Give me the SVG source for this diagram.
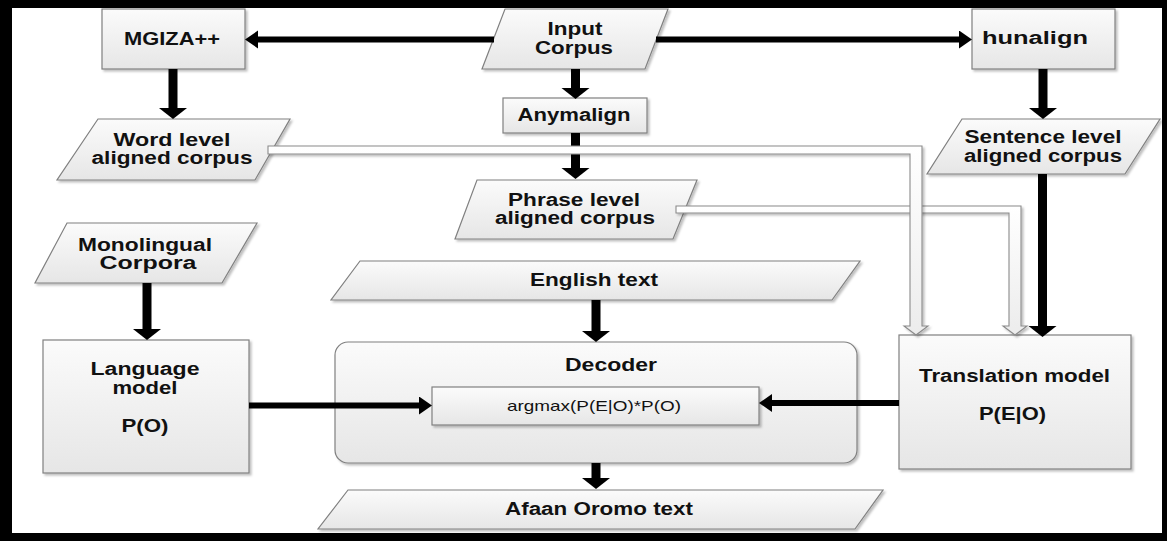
<svg xmlns="http://www.w3.org/2000/svg" width="1167" height="541" viewBox="0 0 1167 541">
<defs>
<linearGradient id="g" x1="0" y1="0" x2="0" y2="1">
<stop offset="0" stop-color="#fbfbfb"/>
<stop offset="1" stop-color="#e6e6e6"/>
</linearGradient>
<linearGradient id="gh" x1="0" y1="0" x2="0" y2="1">
<stop offset="0" stop-color="#ffffff"/>
<stop offset="1" stop-color="#ececec"/>
</linearGradient>
<filter id="sh" x="-10%" y="-10%" width="130%" height="130%">
<feDropShadow dx="2" dy="2" stdDeviation="1.2" flood-color="#000" flood-opacity="0.25"/>
</filter>
<marker id="ahv" markerUnits="userSpaceOnUse" markerWidth="14" markerHeight="30" refX="0" refY="14" orient="auto" viewBox="0 0 14 30">
<path d="M0,0 L11,14 L0,28 z" fill="#000"/>
</marker>
<marker id="ahh" markerUnits="userSpaceOnUse" markerWidth="16" markerHeight="20" refX="0" refY="9" orient="auto" viewBox="0 0 16 20">
<path d="M0,0 L13,9 L0,18 z" fill="#000"/>
</marker>
</defs>
<style>
.n{fill:url(#g);stroke:#808080;stroke-width:1.2;filter:url(#sh)}
.t{font-family:"Liberation Sans",Arial,sans-serif;font-weight:bold;font-size:18px;fill:#111;text-anchor:middle}
.tn{font-family:"Liberation Sans",Arial,sans-serif;font-size:15px;fill:#111;text-anchor:middle}
.v{stroke:#000;stroke-width:9;fill:none;marker-end:url(#ahv)}
.h{stroke:#000;stroke-width:6;fill:none;marker-end:url(#ahh)}
.hol{fill:url(#gh);stroke:#8a8a8a;stroke-width:1.1;filter:url(#sh)}
</style>
<rect x="0" y="0" width="1167" height="541" fill="#000"/>
<rect x="12" y="8" width="1150" height="525" fill="#fff"/>

<g id="mgiza">
<rect class="n" x="102" y="9" width="143" height="60"/>
<text class="t" x="172" y="45" textLength="96" lengthAdjust="spacingAndGlyphs">MGIZA++</text>
</g>
<g id="input">
<polygon class="n" points="505,9 668,9 645,69 482,69"/>
<text class="t" x="575" y="35" textLength="55" lengthAdjust="spacingAndGlyphs">Input</text>
<text class="t" x="574" y="54" textLength="78" lengthAdjust="spacingAndGlyphs">Corpus</text>
</g>
<g id="hunalign">
<rect class="n" x="972" y="9" width="143" height="60"/>
<text class="t" x="1035" y="44" textLength="106" lengthAdjust="spacingAndGlyphs">hunalign</text>
</g>
<g id="anymalign">
<rect class="n" x="503" y="98" width="144" height="35"/>
<text class="t" x="574" y="121" textLength="113" lengthAdjust="spacingAndGlyphs">Anymalign</text>
</g>
<g id="word">
<polygon class="n" points="98,119 290,119 255,180 57,180"/>
<text class="t" x="172" y="146" textLength="117" lengthAdjust="spacingAndGlyphs">Word level</text>
<text class="t" x="172" y="164" textLength="161" lengthAdjust="spacingAndGlyphs">aligned corpus</text>
</g>
<g id="phrase">
<polygon class="n" points="477,180 697,180 673,239 455,239"/>
<text class="t" x="574" y="206" textLength="132" lengthAdjust="spacingAndGlyphs">Phrase level</text>
<text class="t" x="575" y="224" textLength="160" lengthAdjust="spacingAndGlyphs">aligned corpus</text>
</g>
<g id="sentence">
<polygon class="n" points="962,119 1160,119 1125,174 927,174"/>
<text class="t" x="1043" y="143" textLength="157" lengthAdjust="spacingAndGlyphs">Sentence level</text>
<text class="t" x="1043" y="162" textLength="158" lengthAdjust="spacingAndGlyphs">aligned corpus</text>
</g>
<g id="monolingual">
<polygon class="n" points="67,223 257,223 222,283 35,283"/>
<text class="t" x="145" y="251" textLength="134" lengthAdjust="spacingAndGlyphs">Monolingual</text>
<text class="t" x="148" y="269" textLength="97" lengthAdjust="spacingAndGlyphs">Corpora</text>
</g>
<g id="language">
<rect class="n" x="43" y="340" width="206" height="133"/>
<text class="t" x="145" y="375" textLength="109" lengthAdjust="spacingAndGlyphs">Language</text>
<text class="t" x="145" y="394" textLength="65" lengthAdjust="spacingAndGlyphs">model</text>
<text class="t" x="145" y="432" textLength="47" lengthAdjust="spacingAndGlyphs">P(O)</text>
</g>
<g id="english">
<polygon class="n" points="360,261 860,261 832,300 331,300"/>
<text class="t" x="594" y="286" textLength="128" lengthAdjust="spacingAndGlyphs">English text</text>
</g>
<g id="decoder">
<rect class="n" x="335" y="342" width="522" height="121" rx="13" ry="13"/>
<text class="t" x="611" y="371" textLength="92" lengthAdjust="spacingAndGlyphs">Decoder</text>
<g id="argmax">
<rect class="n" x="432" y="387" width="327" height="38"/>
<text class="tn" x="594" y="411" textLength="174" lengthAdjust="spacingAndGlyphs">argmax(P(E|O)*P(O)</text>
</g>
</g>
<g id="translation">
<rect class="n" x="899" y="335" width="232" height="134"/>
<text class="t" x="1014.5" y="382" textLength="191" lengthAdjust="spacingAndGlyphs">Translation model</text>
<text class="t" x="1012.5" y="420" textLength="67" lengthAdjust="spacingAndGlyphs">P(E|O)</text>
</g>
<g id="afaan">
<polygon class="n" points="348,490 883,490 855,529 318,529"/>
<text class="t" x="599" y="515" textLength="188" lengthAdjust="spacingAndGlyphs">Afaan Oromo text</text>
</g>

<g id="connectors">
<path class="h" d="M494,39.5 L258,39.5"/>
<path class="h" d="M656,39.5 L959,39.5"/>
<path class="v" d="M575.5,69 L575.5,88"/>
<path class="v" d="M575.5,133 L575.5,168"/>
<path class="v" d="M173,69 L173,108"/>
<path class="v" d="M1043,69 L1043,108"/>
<path class="v" d="M1042.5,174 L1042.5,326"/>
<path class="v" d="M147,283 L147,329"/>
<path class="v" d="M596,300 L596,331"/>
<path class="v" d="M596,463 L596,478"/>
<path class="h" d="M249,405.5 L419,405.5"/>
<path class="h" d="M899,403 L772,403"/>
<path class="hol" d="M676,206 L1021,206 L1021,326 L1027,326 L1015,335 L1003,326 L1009,326 L1009,213 L676,213 z"/>
<path class="hol" d="M268,146 L922,146 L922,326 L928,326 L916,335 L904,326 L910,326 L910,154 L268,154 z"/>
</g>
</svg>
